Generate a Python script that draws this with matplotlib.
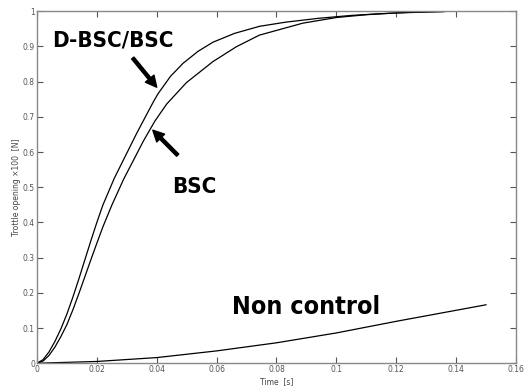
import matplotlib
matplotlib.use("Agg")
import matplotlib.pyplot as plt
from matplotlib import font_manager

# D-BSC/BSC response (upper curve)
t_dbsc = [0, 0.002, 0.004, 0.006, 0.008, 0.010, 0.012, 0.014, 0.016, 0.018, 0.020,
          0.022, 0.0258, 0.0333, 0.0389, 0.0404, 0.0446, 0.0488, 0.0538, 0.0588,
          0.066, 0.0743, 0.0832, 0.0943, 0.105, 0.115, 0.125, 0.136]
y_dbsc = [0, 0.01, 0.032, 0.062, 0.098, 0.14, 0.188, 0.24, 0.294, 0.348, 0.4,
          0.449, 0.525, 0.653, 0.743, 0.765, 0.815, 0.852, 0.886, 0.912,
          0.937, 0.957, 0.969, 0.98, 0.988, 0.993, 0.997, 0.999]

# BSC response (lower curve)
t_bsc = [0, 0.002, 0.004, 0.006, 0.008, 0.010, 0.012, 0.014, 0.016, 0.018, 0.020,
         0.022, 0.0249, 0.0289, 0.0356, 0.0394, 0.0433, 0.0499, 0.0588, 0.0666,
         0.0743, 0.0888, 0.1, 0.11, 0.12, 0.136]
y_bsc = [0, 0.006, 0.022, 0.046, 0.076, 0.11, 0.152, 0.198, 0.246, 0.294, 0.341,
         0.387, 0.447, 0.522, 0.632, 0.688, 0.736, 0.797, 0.857, 0.899,
         0.932, 0.966, 0.982, 0.99, 0.995, 0.999]

# no control
t_non = [0, 0.02, 0.04, 0.06, 0.08, 0.1, 0.12, 0.15]
y_non = [0, 0.005, 0.016, 0.035, 0.058, 0.086, 0.119, 0.166]

xticks = [0, 0.02, 0.04, 0.06, 0.08, 0.1, 0.12, 0.14, 0.16]
xlabels = ["0", "0.02", "0.04", "0.06", "0.08", "0.1", "0.12", "0.14", "0.16"]
yticks = [0, 0.1, 0.2, 0.3, 0.4, 0.5, 0.6, 0.7, 0.8, 0.9, 1]
ylabels = ["0", "0.1", "0.2", "0.3", "0.4", "0.5", "0.6", "0.7", "0.8", "0.9", "1"]

# look for a narrow bold face for the big labels, else shrink DejaVu
narrow = None
for f in font_manager.fontManager.ttflist:
    if ("Narrow" in f.fname or "Condensed" in f.fname) and f.weight in ("bold", 700):
        narrow = f.fname
        break
if narrow:
    big = dict(fontproperties=font_manager.FontProperties(fname=narrow, size=16))
    big2 = dict(fontproperties=font_manager.FontProperties(fname=narrow, size=18))
else:
    big = dict(fontsize=13, fontweight="bold", family="DejaVu Sans")
    big2 = dict(fontsize=14, fontweight="bold", family="DejaVu Sans")

fig = plt.figure(figsize=(5.24, 3.86), dpi=100)
ax = fig.add_axes([0.0706, 0.059, 0.914, 0.912])

ax.plot(t_dbsc, y_dbsc, color="black", lw=0.9, solid_joinstyle="round")
ax.plot(t_bsc, y_bsc, color="black", lw=0.9, solid_joinstyle="round")
ax.plot(t_non, y_non, color="black", lw=0.9, solid_joinstyle="round")

ax.set_xlim(0, 0.16)
ax.set_ylim(0, 1)
ax.set_xticks(xticks)
ax.set_xticklabels(xlabels)
ax.set_yticks(yticks)
ax.set_yticklabels(ylabels)
ax.tick_params(direction="in", top=True, right=True, length=4, width=0.8,
               labelsize=5.5, colors="#555555", pad=1.5)
for s in ax.spines.values():
    s.set_color("#888888")
    s.set_linewidth(1.0)

ax.set_xlabel("Time  [s]", fontsize=5.5, color="#444444", labelpad=2)
ax.set_ylabel("Trottle opening \u00d7100  [N]", fontsize=5.5, color="#444444", labelpad=1)

ax.text(0.0253, 0.918, "D-BSC/BSC", ha="center", va="center", **big)
ax.text(0.0527, 0.50, "BSC", ha="center", va="center", **big)
ax.text(0.09, 0.16, "Non control", ha="center", va="center", **big2)

arrow = dict(facecolor="black", edgecolor="black", width=2.2, headwidth=8, headlength=8, shrink=0)
ax.annotate("", xy=(0.040, 0.784), xytext=(0.032, 0.867), arrowprops=arrow)
ax.annotate("", xy=(0.0387, 0.662), xytext=(0.047, 0.591), arrowprops=arrow)

fig.savefig("out.png", dpi=100)
